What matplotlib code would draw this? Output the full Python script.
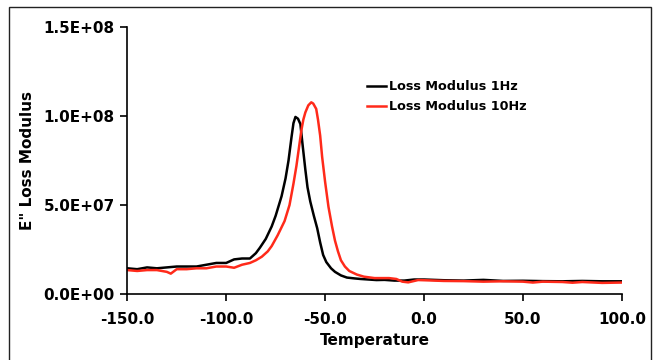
import matplotlib.pyplot as plt
from matplotlib.patches import Rectangle
from matplotlib.ticker import FuncFormatter

# Data
temp_1hz = [-150, -145, -140, -135, -130, -125, -120, -115, -110, -105, -100, -96, -92, -88,
            -85, -83, -80, -77, -75, -72, -70, -68.5, -67, -66, -65, -63.7, -62.5, -61.5,
            -60, -58.9, -57.5, -55.7, -54, -52.5, -51, -49.4, -47, -45, -42, -39, -35, -32,
            -28, -24, -20, -15, -10, -5, 0, 10, 20, 30, 40, 50, 60, 70, 80, 90, 100]
mod_1hz = [14.5, 14.0, 15.0, 14.5, 15.0, 15.5, 15.5, 15.5, 16.5, 17.5, 17.5, 19.5, 20.0, 20.0,
           23.0, 26.0, 31.0, 38.0, 44.0, 55.0, 65.0, 75.0, 88.0, 96.0, 99.5, 98.5, 95.5, 85.0,
           70.0, 60.0, 52.0, 44.0, 37.0, 29.0, 22.0, 18.0, 14.5, 12.5, 10.5, 9.3, 8.8, 8.5,
           8.2, 7.9, 8.0, 7.6, 7.6, 8.2, 8.2, 7.8, 7.6, 8.0, 7.4, 7.5, 7.3, 7.2, 7.4, 7.2, 7.2]

temp_10hz = [-150, -145, -140, -135, -130, -128, -125, -120, -115, -110, -105, -100, -96, -92,
             -88, -85, -82, -79, -77, -74, -70.5, -68, -66, -64.5, -63, -62, -61, -60, -58.5,
             -57, -56, -54.5, -53.6, -52.5, -51.5, -50, -48.3, -46.5, -45, -43.5, -42, -40,
             -37.8, -34, -30.4, -25, -17.7, -14, -11, -8, -3, 0, 10, 20, 30, 40, 50, 55, 60,
             70, 75, 80, 90, 100]
mod_10hz = [13.5, 13.0, 13.5, 13.5, 12.5, 11.5, 14.0, 14.0, 14.5, 14.5, 15.5, 15.5, 14.8, 16.5,
            17.5, 19.0, 21.0, 24.0, 27.0, 33.0, 41.0, 50.0, 62.0, 72.0, 84.0, 92.0, 98.0, 102.0,
            106.0, 107.7, 107.0, 104.0, 98.0, 89.0, 77.0, 63.0, 49.0, 38.0, 30.0, 24.0, 19.0,
            15.5, 13.0, 11.0, 9.8, 9.0, 9.0, 8.5, 7.0, 6.6, 7.9, 7.8, 7.4, 7.3, 7.0, 7.2, 7.0,
            6.5, 7.0, 6.8, 6.4, 6.8, 6.3, 6.5]

fig = plt.figure(figsize=(6.56, 3.6), dpi=100)
ax = fig.add_axes([0.194, 0.183, 0.754, 0.742])

ax.plot(temp_1hz, [v * 1e6 for v in mod_1hz], color='black', lw=1.8, label='Loss Modulus 1Hz')
ax.plot(temp_10hz, [v * 1e6 for v in mod_10hz], color='#ff2a1a', lw=1.8, label='Loss Modulus 10Hz')

ax.set_xlim(-150, 100)
ax.set_ylim(0, 1.5e8)
ax.set_xticks([-150, -100, -50, 0, 50, 100])
ax.set_yticks([0, 5e7, 1e8, 1.5e8])
ax.xaxis.set_major_formatter(FuncFormatter(lambda v, p: f'{v:.1f}'))
ax.yaxis.set_major_formatter(FuncFormatter(lambda v, p: f'{v:.1E}'))
ax.tick_params(direction='out', length=5, width=1.2, labelsize=11)
ax.tick_params(axis='x', pad=8)
ax.tick_params(axis='y', pad=4)
for lab in ax.get_xticklabels() + ax.get_yticklabels():
    lab.set_fontweight('bold')

for s in ['top', 'right']:
    ax.spines[s].set_visible(False)
for s in ['left', 'bottom']:
    ax.spines[s].set_linewidth(1.2)

ax.set_xlabel('Temperature', fontsize=11, fontweight='bold', labelpad=4)
ax.set_ylabel('E" Loss Modulus', fontsize=11, fontweight='bold', labelpad=6)

ax.legend(loc='upper left', bbox_to_anchor=(0.475, 0.82), frameon=False,
          prop={'weight': 'bold', 'size': 9.2}, handlelength=1.5, handletextpad=0.2,
          labelspacing=0.55, borderaxespad=0)

# outer frame around the picture
fig.patches.append(Rectangle((0.013, -0.01), 0.979, 0.99, transform=fig.transFigure,
                             fill=False, edgecolor='#222222', lw=1.0))

plt.savefig('out.png', dpi=100)
